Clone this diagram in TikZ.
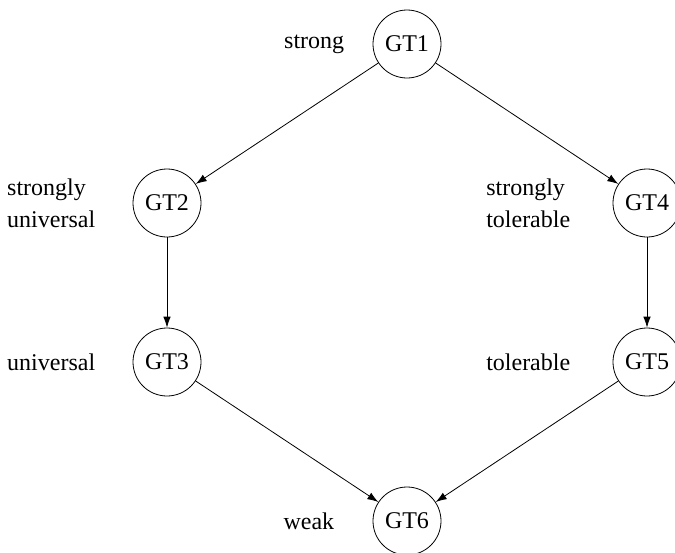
\documentclass[tikz,border=0pt]{standalone}
\usepackage{fontspec}
\setmainfont{Liberation Serif}
\usetikzlibrary{arrows.meta,positioning}

\begin{document}
\begin{tikzpicture}[x=0.5pt,y=-0.5pt,>={Latex[length=5.5pt,width=3.8pt]},font=\fontsize{12}{16}\selectfont]
  \tikzset{gt/.style={draw,circle,minimum size=34pt,inner sep=0pt},
    lbl/.style={align=left,inner sep=0pt}}
  \useasboundingbox (0,0) rectangle (675,552);
  \node[gt] (gt1) at (407,44) {GT1};
  \node[gt] (gt2) at (167,203) {GT2};
  \node[gt] (gt4) at (647,203) {GT4};
  \node[gt] (gt3) at (167,362) {GT3};
  \node[gt] (gt5) at (647,362) {GT5};
  \node[gt] (gt6) at (407,521) {GT6};
  \node[lbl,left=14pt of gt1] (strong) {strong};
  \node[lbl,left=18.5pt of gt2] (struniv) {strongly\\universal};
  \node[lbl,left=21pt of gt4] (strtol) {strongly\\tolerable};
  \node[lbl,left=18.5pt of gt3] (univ) {universal};
  \node[lbl,left=21pt of gt5] (tol) {tolerable};
  \node[lbl,left=19pt of gt6] (weak) {weak};
  \draw[->] (gt1) -- (gt2); \draw[->] (gt1) -- (gt4);
  \draw[->] (gt2) -- (gt3); \draw[->] (gt4) -- (gt5);
  \draw[->] (gt3) -- (gt6); \draw[->] (gt5) -- (gt6);
\end{tikzpicture}
\end{document}
